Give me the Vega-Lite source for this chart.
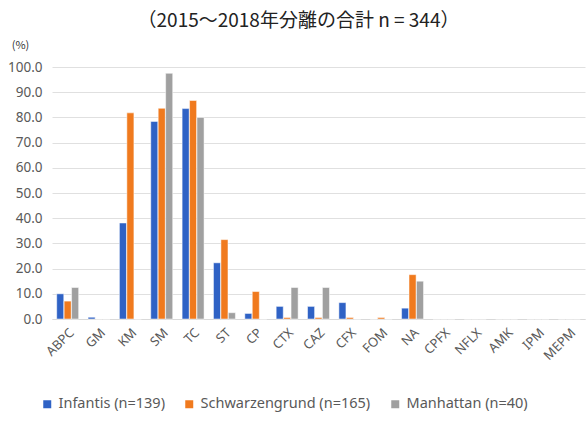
{
  "$schema": "https://vega.github.io/schema/vega-lite/v6.json",
  "autosize": {"type": "none"},
  "width": 533,
  "height": 252,
  "padding": {"left": 52, "top": 67, "right": 3, "bottom": 116},
  "background": "white",
  "config": {"font": "Noto Sans CJK JP", "view": {"stroke": null}},
  "title": {"text": "（2015～2018年分離の合計 n = 344）", "fontSize": 19, "fontWeight": "normal", "color": "#222222", "anchor": "middle", "frame": "group", "offset": 8, "dx": -20, "font": "Noto Sans CJK JP"},
  "data": {"values": [
    {"drug": "ABPC", "serovar": "Infantis (n=139)", "v": 10.0},
    {"drug": "ABPC", "serovar": "Schwarzengrund (n=165)", "v": 7.1},
    {"drug": "ABPC", "serovar": "Manhattan (n=40)", "v": 12.5},
    {"drug": "GM", "serovar": "Infantis (n=139)", "v": 0.7},
    {"drug": "GM", "serovar": "Schwarzengrund (n=165)", "v": 0},
    {"drug": "GM", "serovar": "Manhattan (n=40)", "v": 0},
    {"drug": "KM", "serovar": "Infantis (n=139)", "v": 38.1},
    {"drug": "KM", "serovar": "Schwarzengrund (n=165)", "v": 81.8},
    {"drug": "KM", "serovar": "Manhattan (n=40)", "v": 0},
    {"drug": "SM", "serovar": "Infantis (n=139)", "v": 78.4},
    {"drug": "SM", "serovar": "Schwarzengrund (n=165)", "v": 83.6},
    {"drug": "SM", "serovar": "Manhattan (n=40)", "v": 97.5},
    {"drug": "TC", "serovar": "Infantis (n=139)", "v": 83.5},
    {"drug": "TC", "serovar": "Schwarzengrund (n=165)", "v": 86.7},
    {"drug": "TC", "serovar": "Manhattan (n=40)", "v": 80.0},
    {"drug": "ST", "serovar": "Infantis (n=139)", "v": 22.3},
    {"drug": "ST", "serovar": "Schwarzengrund (n=165)", "v": 31.5},
    {"drug": "ST", "serovar": "Manhattan (n=40)", "v": 2.5},
    {"drug": "CP", "serovar": "Infantis (n=139)", "v": 2.2},
    {"drug": "CP", "serovar": "Schwarzengrund (n=165)", "v": 10.9},
    {"drug": "CP", "serovar": "Manhattan (n=40)", "v": 0},
    {"drug": "CTX", "serovar": "Infantis (n=139)", "v": 5.0},
    {"drug": "CTX", "serovar": "Schwarzengrund (n=165)", "v": 0.6},
    {"drug": "CTX", "serovar": "Manhattan (n=40)", "v": 12.5},
    {"drug": "CAZ", "serovar": "Infantis (n=139)", "v": 5.0},
    {"drug": "CAZ", "serovar": "Schwarzengrund (n=165)", "v": 0.6},
    {"drug": "CAZ", "serovar": "Manhattan (n=40)", "v": 12.5},
    {"drug": "CFX", "serovar": "Infantis (n=139)", "v": 6.5},
    {"drug": "CFX", "serovar": "Schwarzengrund (n=165)", "v": 0.6},
    {"drug": "CFX", "serovar": "Manhattan (n=40)", "v": 0},
    {"drug": "FOM", "serovar": "Infantis (n=139)", "v": 0},
    {"drug": "FOM", "serovar": "Schwarzengrund (n=165)", "v": 0.6},
    {"drug": "FOM", "serovar": "Manhattan (n=40)", "v": 0},
    {"drug": "NA", "serovar": "Infantis (n=139)", "v": 4.3},
    {"drug": "NA", "serovar": "Schwarzengrund (n=165)", "v": 17.6},
    {"drug": "NA", "serovar": "Manhattan (n=40)", "v": 15.0},
    {"drug": "CPFX", "serovar": "Infantis (n=139)", "v": 0},
    {"drug": "CPFX", "serovar": "Schwarzengrund (n=165)", "v": 0},
    {"drug": "CPFX", "serovar": "Manhattan (n=40)", "v": 0},
    {"drug": "NFLX", "serovar": "Infantis (n=139)", "v": 0},
    {"drug": "NFLX", "serovar": "Schwarzengrund (n=165)", "v": 0},
    {"drug": "NFLX", "serovar": "Manhattan (n=40)", "v": 0},
    {"drug": "AMK", "serovar": "Infantis (n=139)", "v": 0},
    {"drug": "AMK", "serovar": "Schwarzengrund (n=165)", "v": 0},
    {"drug": "AMK", "serovar": "Manhattan (n=40)", "v": 0},
    {"drug": "IPM", "serovar": "Infantis (n=139)", "v": 0},
    {"drug": "IPM", "serovar": "Schwarzengrund (n=165)", "v": 0},
    {"drug": "IPM", "serovar": "Manhattan (n=40)", "v": 0},
    {"drug": "MEPM", "serovar": "Infantis (n=139)", "v": 0},
    {"drug": "MEPM", "serovar": "Schwarzengrund (n=165)", "v": 0},
    {"drug": "MEPM", "serovar": "Manhattan (n=40)", "v": 0}
  ]},
  "mark": {"type": "bar", "stroke": "white", "strokeWidth": 0.5},
  "encoding": {
    "x": {"field": "drug", "type": "nominal", "sort": null,
      "scale": {"paddingInner": 0.3, "paddingOuter": 0.15},
      "axis": {"title": null, "labelAngle": -45, "labelFontSize": 13, "labelColor": "#595959", "ticks": false, "domain": true, "domainColor": "#D9D9D9", "labelPadding": 7, "labelFont": "Noto Sans"}},
    "xOffset": {"field": "serovar", "type": "nominal", "sort": null, "scale": {"paddingInner": 0.05}},
    "y": {"field": "v", "type": "quantitative",
      "scale": {"domain": [0, 100], "nice": false},
      "axis": {"title": "(%)", "titleAngle": 0, "titleX": -32, "titleY": -22, "titleAlign": "center", "titleBaseline": "middle", "titleFontSize": 11, "titleFontWeight": "normal", "titleColor": "#333333",
        "values": [0, 10, 20, 30, 40, 50, 60, 70, 80, 90, 100], "format": ".1f", "labelFontSize": 13.5, "labelColor": "#595959", "labelFont": "Noto Sans", "ticks": false, "domain": false, "gridColor": "#E0E0E0", "labelPadding": 10}},
    "color": {"field": "serovar", "type": "nominal", "sort": null,
      "scale": {"domain": ["Infantis (n=139)", "Schwarzengrund (n=165)", "Manhattan (n=40)"], "range": ["#2F62C5", "#F07A1E", "#A0A0A0"]},
      "legend": {"title": null, "orient": "none", "legendX": -12, "legendY": 330, "direction": "horizontal", "symbolType": "square", "symbolSize": 90, "labelFontSize": 14.5, "labelLimit": 400, "labelColor": "#595959", "labelFont": "Noto Sans", "columnPadding": 16, "labelOffset": 4}}
  }
}
